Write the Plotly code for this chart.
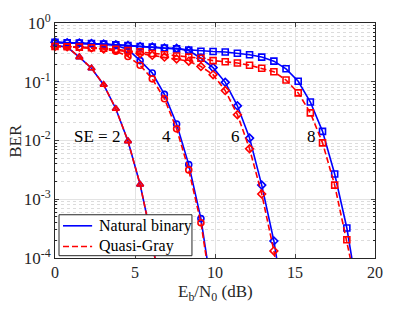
import plotly.graph_objects as go

# Eb/N0 grid (dB)
ebn0 = [0, 0.76, 1.52, 2.28, 3.04, 3.8, 4.56, 5.32, 6.08, 6.84, 7.6, 8.36, 9.12,
        9.88, 10.64, 11.4, 12.16, 12.92, 13.68, 14.44, 15.2, 15.96, 16.72, 17.48,
        18.24, 19.0]

# SE = 2 (identical for both mappings)
nb_se2 = [0.417, 0.389, 0.263, 0.170, 0.0891, 0.0347, 0.00977, 0.00178, 1.9e-4, 1e-5]
qg_se2 = [0.417, 0.389, 0.263, 0.170, 0.0891, 0.0347, 0.00977, 0.00178, 1.9e-4, 1e-5]
# SE = 4
nb_se4 = [0.468, 0.462, 0.457, 0.447, 0.437, 0.417, 0.355, 0.229, 0.141, 0.0610,
          0.0191, 0.00389, 4.68e-4, 2.04e-5]
qg_se4 = [0.407, 0.398, 0.389, 0.380, 0.363, 0.331, 0.269, 0.191, 0.112, 0.0513,
          0.0158, 0.00316, 3.98e-4, 1.78e-5]
# SE = 6
nb_se6 = [0.468, 0.462, 0.457, 0.447, 0.437, 0.427, 0.412, 0.398, 0.389, 0.376,
          0.372, 0.339, 0.251, 0.174, 0.0977, 0.0389, 0.0110, 0.00174, 1.95e-4, 1e-5]
qg_se6 = [0.398, 0.394, 0.389, 0.380, 0.363, 0.347, 0.324, 0.302, 0.282, 0.263,
          0.245, 0.224, 0.182, 0.132, 0.0708, 0.0275, 0.00724, 0.00123, 1.32e-4, 7.9e-6]
# SE = 8
nb_se8 = [0.468, 0.462, 0.457, 0.447, 0.437, 0.427, 0.412, 0.398, 0.389, 0.376,
          0.363, 0.347, 0.331, 0.327, 0.320, 0.305, 0.288, 0.263, 0.224, 0.166,
          0.102, 0.0452, 0.0143, 0.00269, 3.24e-4, 1.82e-5]
qg_se8 = [0.398, 0.394, 0.389, 0.380, 0.372, 0.355, 0.339, 0.324, 0.302, 0.288,
          0.275, 0.263, 0.251, 0.229, 0.219, 0.209, 0.191, 0.170, 0.148, 0.107,
          0.0646, 0.0295, 0.00912, 0.00174, 2.04e-4, 2.0e-5]

se_labels = ["SE = 2", "4", "6", "8"]
se_label_x = [2.6, 6.98, 11.25, 16.04]
se_label_y = [-1.93, -1.93, -1.93, -1.93]  # log10 units

legend_names = ["Natural binary", "Quasi-Gray"]

x_ticks = [0, 5, 10, 15, 20]
y_decades = [-4, -3, -2, -1, 0]
minor_mult = [2, 3, 4, 5, 6, 7, 8, 9]

BLUE = "#0000ff"
RED = "#ff0000"
FONT = "'Liberation Serif', 'Times New Roman', serif"
DASH = "6px,3px"

series = [
    (nb_se2, qg_se2, "triangle-up-open"),
    (nb_se4, qg_se4, "circle-open"),
    (nb_se6, qg_se6, "diamond-open"),
    (nb_se8, qg_se8, "square-open"),
]

fig = go.Figure()
for nb, qg, sym in series:
    for vals, color, dash, name in [(nb, BLUE, "solid", legend_names[0]),
                                     (qg, RED, DASH, legend_names[1])]:
        xs = ebn0[:len(vals)]
        fig.add_trace(go.Scatter(
            x=xs, y=vals, mode="lines", name=name, showlegend=False,
            line=dict(color=color, width=1.6, dash=dash)))
        mx = [x for x, v in zip(xs, vals) if v >= 1e-4]
        my = [v for v in vals if v >= 1e-4]
        fig.add_trace(go.Scatter(
            x=mx, y=my, mode="markers", name=name, showlegend=False,
            cliponaxis=False,
            marker=dict(symbol=sym, size=6, color=color,
                        line=dict(color=color, width=1.6))))

for t, xx, yy in zip(se_labels, se_label_x, se_label_y):
    fig.add_annotation(x=xx, y=yy, xref="x", yref="y", text=t, showarrow=False,
                       font=dict(family=FONT, size=17, color="black"))

# axis titles
fig.add_annotation(x=0.5, y=-0.148, xref="paper", yref="paper", yanchor="middle",
                   text="E<sub>b</sub>/N<sub>0</sub> (dB)", showarrow=False,
                   font=dict(family=FONT, size=17, color="#262626"))
fig.add_annotation(x=-0.124, y=0.5, xref="paper", yref="paper", xanchor="center",
                   text="BER", textangle=-90, showarrow=False,
                   font=dict(family=FONT, size=17, color="#262626"))

# legend box (drawn above the curves, like the reference's opaque legend)
fig.add_shape(type="rect", xref="paper", yref="paper", x0=0.0125, x1=0.428,
              y0=0.0098, y1=0.184, fillcolor="white",
              line=dict(color="#262626", width=1), layer="above")
for name, color, dash, ly in [(legend_names[0], BLUE, "solid", 0.137),
                               (legend_names[1], RED, DASH, 0.049)]:
    fig.add_shape(type="line", xref="paper", yref="paper", x0=0.025, x1=0.116,
                  y0=ly, y1=ly, line=dict(color=color, width=1.6, dash=dash),
                  layer="above")
    fig.add_annotation(x=0.131, y=ly, xref="paper", yref="paper", xanchor="left",
                       yanchor="middle", text=name, showarrow=False,
                       font=dict(family=FONT, size=16, color="black"))

y_tickvals = [10.0 ** d for d in y_decades]
y_ticktext = ["10<sup>%d</sup>" % d for d in y_decades]
y_minor = [m * 10.0 ** d for d in y_decades[:-1] for m in minor_mult]

fig.update_xaxes(range=[0, 20], tickvals=x_ticks, ticks="inside", ticklen=4,
                 showline=True, linecolor="#262626", linewidth=1, mirror="allticks",
                 showgrid=True, gridcolor="#e3e3e3", gridwidth=1, zeroline=False,
                 automargin=False,
                 tickfont=dict(family=FONT, size=16, color="#262626"))
fig.update_yaxes(type="log", range=[-4, 0], tickmode="array", tickvals=y_tickvals,
                 ticktext=y_ticktext, ticks="inside", ticklen=4,
                 showline=True, linecolor="#262626", linewidth=1, mirror="allticks",
                 showgrid=True, gridcolor="#e3e3e3", gridwidth=1, zeroline=False,
                 automargin=False,
                 tickfont=dict(family=FONT, size=17, color="#262626"),
                 minor=dict(tickmode="array", tickvals=y_minor, ticks="inside",
                            ticklen=2, tickcolor="#262626", showgrid=True,
                            gridcolor="#dcdcdc", griddash="dot", gridwidth=1))

# page body adds an 8px offset, so margins are shifted to land the plot area
# where the reference has it
fig.update_layout(
    width=415, height=312,
    margin=dict(l=47, r=48, t=15, b=62),
    paper_bgcolor="white", plot_bgcolor="white",
    showlegend=False,
)

fig.write_html("out.html")
